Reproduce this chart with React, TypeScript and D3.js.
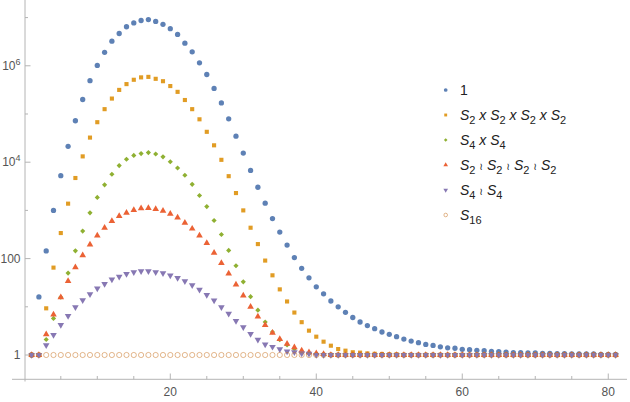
import { useEffect, useRef } from "react";
import * as d3 from "d3";

// orbit counts, index 1..81
const trivialGroup = [
  1, 16, 144, 1000, 5250, 21400, 72400, 200000, 490000, 1020000,
  1900000, 3240000, 4680000, 6460000, 7760000, 8710000, 9120000, 8320000, 7240000, 5890000,
  4470000, 2950000, 1950000, 1150000, 660000, 339000, 170000, 79400, 34700, 15500,
  6760, 3020, 1410, 676, 355, 191, 105, 63, 40, 26,
  18.6, 13.2, 10, 7.7, 6.0, 4.84, 4.07, 3.52, 3.0, 2.69,
  2.4, 2.14, 1.95, 1.8, 1.66, 1.58, 1.48, 1.41, 1.38, 1.31,
  1.29, 1.25, 1.23, 1.19, 1.17, 1.15, 1.12, 1.12, 1.1, 1.1,
  1.08, 1.08, 1.07, 1.07, 1.05, 1.05, 1.05, 1.05, 1.03, 1.03,
  1.03,
];
const s2Product = [
  1, 1, 9.3, 65, 339, 1380, 4700, 13200, 32400, 67600,
  126000, 209000, 316000, 417000, 513000, 575000, 589000, 537000, 479000, 380000,
  288000, 195000, 126000, 77600, 42700, 22400, 11200, 5130, 2290, 1000,
  437, 200, 91, 45, 23, 12.9, 7.6, 4.8, 3.2, 2.4,
  1.89, 1.56, 1.33, 1.23, 1.14, 1.12, 1.08, 1.06, 1.05, 1.03,
  1.03, 1, 1, 1, 1, 1, 1, 1, 1, 1,
  1, 1, 1, 1, 1, 1, 1, 1, 1, 1,
  1, 1, 1, 1, 1, 1, 1, 1, 1, 1,
  1,
];
const s4Product = [
  1, 1, 2.1, 5.75, 15.8, 50, 145, 372, 891, 1860,
  3390, 5620, 8510, 11500, 13800, 15100, 15800, 14800, 12900, 10200,
  7590, 5370, 3470, 2040, 1200, 617, 316, 148, 71, 33,
  16.2, 8.5, 4.84, 3.0, 2.07, 1.61, 1.33, 1.17, 1.08, 1.05,
  1, 1, 1, 1, 1, 1, 1, 1, 1, 1,
  1, 1, 1, 1, 1, 1, 1, 1, 1, 1,
  1, 1, 1, 1, 1, 1, 1, 1, 1, 1,
  1, 1, 1, 1, 1, 1, 1, 1, 1, 1,
  1,
];
const s2Wreath = [
  1, 1, 2.7, 6.9, 15.8, 34, 66, 117, 195, 302,
  437, 603, 759, 891, 1020, 1100, 1120, 1060, 977, 851,
  708, 550, 417, 302, 209, 132, 81, 49, 29, 17,
  10, 6.3, 4.2, 2.9, 2.14, 1.7, 1.45, 1.23, 1.14, 1.08,
  1.05, 1, 1, 1, 1, 1, 1, 1, 1, 1,
  1, 1, 1, 1, 1, 1, 1, 1, 1, 1,
  1, 1, 1, 1, 1, 1, 1, 1, 1, 1,
  1, 1, 1, 1, 1, 1, 1, 1, 1, 1,
  1,
];
const s4Wreath = [
  1, 1, 1.6, 2.6, 4.2, 6.5, 9.8, 13.8, 18.2, 24,
  30, 37, 42, 48, 52.5, 55, 55, 52.5, 50, 44.7,
  39.8, 33.9, 28.2, 22.6, 17.6, 13.5, 9.8, 7.2, 5.1, 3.76,
  2.75, 2.09, 1.66, 1.48, 1.32, 1.19, 1.14, 1.08, 1.07, 1,
  1, 1, 1, 1, 1, 1, 1, 1, 1, 1,
  1, 1, 1, 1, 1, 1, 1, 1, 1, 1,
  1, 1, 1, 1, 1, 1, 1, 1, 1, 1,
  1, 1, 1, 1, 1, 1, 1, 1, 1, 1,
  1,
];
const s16 = [
  1, 1, 1, 1, 1, 1, 1, 1, 1, 1,
  1, 1, 1, 1, 1, 1, 1, 1, 1, 1,
  1, 1, 1, 1, 1, 1, 1, 1, 1, 1,
  1, 1, 1, 1, 1, 1, 1, 1, 1, 1,
  1, 1, 1, 1, 1, 1, 1, 1, 1, 1,
  1, 1, 1, 1, 1, 1, 1, 1, 1, 1,
  1, 1, 1, 1, 1, 1, 1, 1, 1, 1,
  1, 1, 1, 1, 1, 1, 1, 1, 1, 1,
  1,
];

const seriesNames = ["1", "S2 x S2 x S2 x S2", "S4 x S4", "S2 ≀ S2 ≀ S2 ≀ S2", "S4 ≀ S4", "S16"];
const xTicks = [20, 40, 60, 80];
const xMinorTicks = [5, 10, 15, 25, 30, 35, 45, 50, 55, 65, 70, 75];
const yTicks = [1, 100, 1e4, 1e6];
const yMinorTicks = [10, 1000, 1e5, 1e7];

const width = 630;
const height = 402;

export default function App() {
  const svgRef = useRef<SVGSVGElement>(null);

  useEffect(() => {
    if (!svgRef.current) return;
    const svg = d3.select(svgRef.current);
    svg.selectAll("*").remove();

    const x = d3.scaleLinear().domain([0, 82.5]).range([24.3, 626.5]);
    const y = d3
      .scaleLog()
      .domain([Math.pow(10, -0.504), Math.pow(10, 7.365)])
      .range([379.3, 0]);

    const axisColor = "#b4b4b4";
    const labelColor = "#555";
    const font = "'Liberation Sans', Arial, sans-serif";

    // axes lines
    svg.append("line")
      .attr("x1", 12).attr("x2", 627)
      .attr("y1", 379.3).attr("y2", 379.3)
      .attr("stroke", axisColor);
    svg.append("line")
      .attr("x1", 25).attr("x2", 25)
      .attr("y1", 0).attr("y2", 381.5)
      .attr("stroke", axisColor);

    // x ticks
    const xAxis = svg.append("g").attr("font-family", font).attr("font-size", 12);
    xAxis.selectAll("line.major")
      .data(xTicks)
      .enter()
      .append("line")
      .attr("x1", (d) => x(d)).attr("x2", (d) => x(d))
      .attr("y1", 379.3).attr("y2", 373.5)
      .attr("stroke", axisColor);
    xAxis.selectAll("line.minor")
      .data(xMinorTicks)
      .enter()
      .append("line")
      .attr("x1", (d) => x(d)).attr("x2", (d) => x(d))
      .attr("y1", 379.3).attr("y2", 376)
      .attr("stroke", axisColor);
    xAxis.selectAll("text")
      .data(xTicks)
      .enter()
      .append("text")
      .attr("x", (d) => x(d))
      .attr("y", 395.5)
      .attr("text-anchor", "middle")
      .attr("fill", labelColor)
      .text((d) => d);

    // y ticks
    const yAxis = svg.append("g").attr("font-family", font).attr("font-size", 12);
    yAxis.selectAll("line.major")
      .data(yTicks)
      .enter()
      .append("line")
      .attr("x1", 25).attr("x2", 30.5)
      .attr("y1", (d) => y(d)).attr("y2", (d) => y(d))
      .attr("stroke", axisColor);
    yAxis.selectAll("line.minor")
      .data(yMinorTicks)
      .enter()
      .append("line")
      .attr("x1", 25).attr("x2", 28)
      .attr("y1", (d) => y(d)).attr("y2", (d) => y(d))
      .attr("stroke", axisColor);
    yTicks.forEach((d) => {
      const t = yAxis.append("text")
        .attr("x", 20.5)
        .attr("y", y(d) + 4.3)
        .attr("text-anchor", "end")
        .attr("fill", labelColor);
      const exp = Math.round(Math.log10(d));
      if (exp <= 2) {
        t.text(String(d));
      } else {
        t.append("tspan").text("10");
        t.append("tspan").attr("font-size", 9).attr("dy", -5).text(String(exp));
      }
    });

    const series = [trivialGroup, s2Product, s4Product, s2Wreath, s4Wreath, s16];
    const colors = ["#5E81B5", "#E19C24", "#8FB032", "#EB6235", "#8778B3", "#C56E1A"];
    const diamond = (d3 as any).symbolDiamond2 ?? d3.symbolDiamond;
    const symbols = [
      d3.symbol(d3.symbolCircle, 22)(),
      d3.symbol(d3.symbolSquare, 17)(),
      d3.symbol(diamond, 17)(),
      d3.symbol(d3.symbolTriangle, 19)(),
      d3.symbol(d3.symbolTriangle, 19)(),
      "",
    ];

    const drawMarker = (g: any, i: number, cx: number, cy: number, scale = 1) => {
      if (i === 5) {
        g.append("circle")
          .attr("cx", cx).attr("cy", cy)
          .attr("r", 2.6 * scale)
          .attr("fill", "none")
          .attr("stroke", colors[i])
          .attr("stroke-opacity", 0.55)
          .attr("stroke-width", 0.9);
      } else {
        g.append("path")
          .attr("d", symbols[i])
          .attr("fill", colors[i])
          .attr("transform", `translate(${cx},${cy}) scale(${scale})${i === 4 ? " rotate(180)" : ""}`);
      }
    };

    const plot = svg.append("g");
    series.forEach((vals, i) => {
      const g = plot.append("g");
      vals.forEach((v, k) => drawMarker(g, i, x(k + 1), y(v)));
    });

    // legend
    const legend = svg.append("g").attr("font-family", font).attr("font-size", 14).attr("fill", "#222");
    seriesNames.forEach((name, i) => {
      const cy = 90 + i * 25;
      drawMarker(legend, i, 445.7, cy, 0.7);
      const t = legend.append("text").attr("x", 460).attr("y", cy + 5);
      let shift = 0; // pending baseline correction after a subscript
      const add = (txt: string) => {
        const s = t.append("tspan").text(txt);
        if (shift) { s.attr("dy", shift); shift = 0; }
        return s;
      };
      name.split(" ").forEach((p, j) => {
        if (j > 0) add(" ");
        const m = p.match(/^S(\d+)$/);
        if (m) {
          add("S").attr("font-style", "italic");
          t.append("tspan").attr("font-size", 11).attr("dy", 4).text(m[1]);
          shift = -4;
        } else if (p === "x") {
          add("x").attr("font-style", "italic");
        } else if (p === "≀") {
          add("≀").attr("font-size", 10).attr("font-family", "'DejaVu Sans', sans-serif");
        } else {
          add(p);
        }
      });
    });
  }, []);

  return (
    <svg
      ref={svgRef}
      width={width}
      height={height}
      style={{ position: "absolute", left: 0, top: 0, background: "#fff" }}
    />
  );
}
